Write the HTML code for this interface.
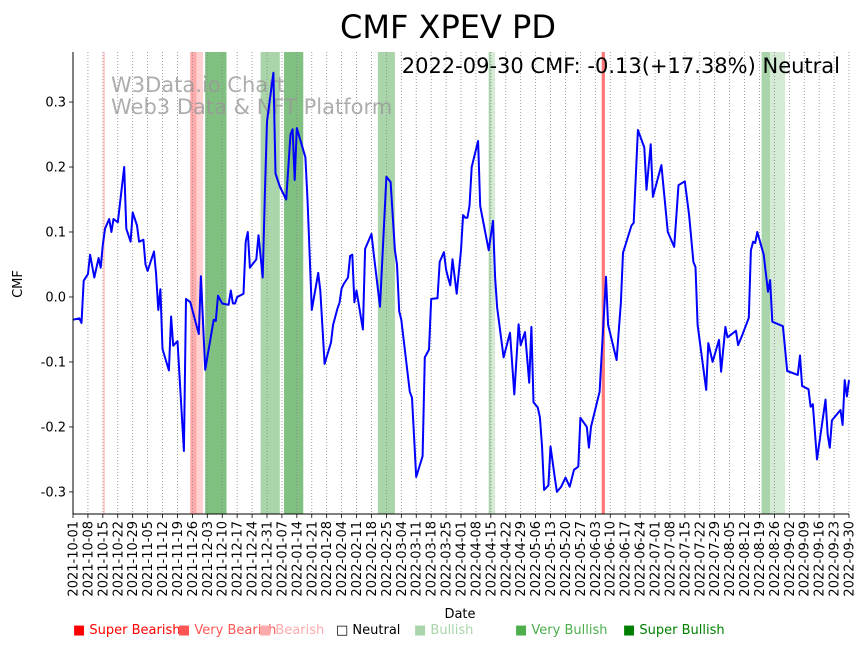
<!DOCTYPE html>
<html><head><meta charset="utf-8"><style>
body{margin:0;background:#fff;font-family:"Liberation Sans","DejaVu Sans",sans-serif;}
svg text{font-family:"DejaVu Sans","Liberation Sans",sans-serif;}
</style></head><body>
<svg id="chart" width="864" height="646" xmlns="http://www.w3.org/2000/svg">
<text x="448" y="38" font-size="32" text-anchor="middle">CMF XPEV PD</text>
<g id="spans"></g>
<g id="grid"></g>
<text x="111" y="92" font-size="21" fill="#999" opacity="0.8">W3Data.io Chart</text>
<text x="111" y="114" font-size="21" fill="#999" opacity="0.8">Web3 Data &amp; NFT Platform</text>
<g id="series"></g>
<text x="840" y="73" font-size="21" text-anchor="end">2022-09-30 CMF: -0.13(+17.38%) Neutral</text>
<g id="axes"></g>
<text transform="translate(22,284) rotate(-90)" font-size="13" text-anchor="middle">CMF</text>
<text x="460" y="618" font-size="13" text-anchor="middle">Date</text>
<g font-size="13">
<text x="73" y="634" fill="#ff0000">■ Super Bearish</text>
<text x="178" y="634" fill="#ff5555">■ Very Bearish</text>
<text x="259" y="634" fill="#ffaaaa">■ Bearish</text>
<text x="336" y="634" fill="#000">□ Neutral</text>
<text x="414" y="634" fill="#aad4aa">■ Bullish</text>
<text x="515" y="634" fill="#4caf4c">■ Very Bullish</text>
<text x="623" y="634" fill="#008000">■ Super Bullish</text>
</g>
</svg>
<script>
const days=[0,3,4,5,7,8,10,12,13,14,15,17,18,19,21,24,25,27,28,30,31,33,34,35,38,39,40,41,42,45,46,47,49,52,53,55,59,60,62,66,67,68,70,73,74,75,76,77,80,81,82,83,86,87,89,90,91,94,95,97,100,102,103,104,105,109,110,112,115,116,118,121,122,124,125,126,127,129,130,131,132,133,136,137,140,141,144,147,149,151,152,153,154,158,159,161,164,165,167,168,171,172,174,175,176,177,178,180,182,183,184,185,186,187,190,191,195,197,198,199,202,205,207,209,210,212,214,215,216,218,219,220,221,223,224,226,227,229,231,233,235,237,238,241,242,243,247,250,251,255,257,258,262,263,265,268,269,271,272,276,279,282,284,287,289,291,292,293,297,298,300,303,304,306,307,311,312,314,317,318,319,320,321,324,326,327,328,333,335,340,341,342,345,346,347,349,353,354,355,356,360,361,362,363,364];
const cmf=[-0.035,-0.033,-0.04,0.025,0.035,0.065,0.03,0.06,0.045,0.08,0.105,0.12,0.1,0.12,0.115,0.2,0.105,0.085,0.13,0.11,0.085,0.088,0.05,0.04,0.07,0.035,-0.02,0.012,-0.08,-0.113,-0.03,-0.075,-0.068,-0.237,-0.003,-0.008,-0.057,0.032,-0.112,-0.035,-0.037,0.002,-0.01,-0.012,0.01,-0.01,-0.01,0.0,0.005,0.085,0.1,0.045,0.058,0.095,0.03,0.16,0.27,0.345,0.19,0.17,0.15,0.25,0.258,0.18,0.26,0.215,0.15,-0.02,0.037,0.01,-0.103,-0.07,-0.043,-0.018,-0.009,0.013,0.02,0.03,0.063,0.065,-0.008,0.01,-0.05,0.074,0.097,0.068,-0.015,0.185,0.177,0.072,0.05,-0.022,-0.035,-0.146,-0.155,-0.277,-0.245,-0.093,-0.081,-0.003,-0.002,0.054,0.069,0.042,0.029,0.018,0.058,0.005,0.072,0.126,0.122,0.122,0.14,0.2,0.24,0.14,0.072,0.117,0.03,-0.017,-0.093,-0.055,-0.15,-0.042,-0.074,-0.054,-0.132,-0.046,-0.162,-0.17,-0.185,-0.229,-0.297,-0.29,-0.23,-0.278,-0.3,-0.292,-0.278,-0.292,-0.266,-0.261,-0.186,-0.2,-0.232,-0.2,-0.146,0.031,-0.043,-0.097,-0.008,0.068,0.11,0.114,0.257,0.23,0.165,0.235,0.154,0.203,0.1,0.077,0.172,0.178,0.126,0.054,0.046,-0.043,-0.143,-0.071,-0.1,-0.066,-0.115,-0.046,-0.062,-0.052,-0.074,-0.058,-0.032,0.072,0.085,0.083,0.1,0.065,0.008,0.026,-0.038,-0.045,-0.114,-0.12,-0.09,-0.137,-0.142,-0.169,-0.165,-0.25,-0.158,-0.212,-0.232,-0.19,-0.174,-0.197,-0.128,-0.153,-0.128];
const spanStart=[14,55,58,62,88,99,143,195,196,248,323,327];
const spanEnd=[15,58,61,72,97,108,151,196,198,249.5,327,334];
const spanColor=["#ffd0d0","#ffaaaa","#ffd0d0","#80c080","#aad4aa","#80c080","#aad4aa","#aad4aa","#d4ead4","#ff7777","#aad4aa","#d4ead4"];
const yTicks=[-0.3,-0.2,-0.1,0.0,0.1,0.2,0.3];
const startDate=new Date(Date.UTC(2021,9,1));
const NS="http://www.w3.org/2000/svg";
const X0=73,X1=849,Y0=52,Y1=514,VMIN=-0.334,VMAX=0.377,DMAX=364;
const xs=d=>X0+(X1-X0)*d/DMAX;
const ys=v=>Y1-(Y1-Y0)*(v-VMIN)/(VMAX-VMIN);
function mk(tag,attrs,parent){const e=document.createElementNS(NS,tag);for(const k in attrs)e.setAttribute(k,attrs[k]);parent.appendChild(e);return e;}
const spans=document.getElementById('spans');
spanStart.forEach((s,i)=>{
 const r=mk('rect',{x:xs(s),y:Y0,width:xs(spanEnd[i])-xs(s),height:Y1-Y0,fill:spanColor[i]},spans);
 
 
});
const grid=document.getElementById('grid');
const axes=document.getElementById('axes');
for(let d=0;d<=DMAX;d+=7){
 const x=xs(d);
 const l=mk('line',{x1:x,x2:x,y1:Y0,y2:Y1,stroke:'#888','stroke-width':0.8,'stroke-dasharray':'1,2'},grid);
 
 
 mk('line',{x1:x,x2:x,y1:Y1,y2:Y1+4,stroke:'#000','stroke-width':0.8},axes);
 const dt=new Date(startDate.getTime()+d*86400000);
 const t=mk('text',{transform:`translate(${x+4.5},${Y1+7}) rotate(-90)`,'font-size':13,'text-anchor':'end'},axes);
 
 
 t.textContent=dt.toISOString().slice(0,10);
}
yTicks.forEach(v=>{
 const y=ys(v);
 mk('line',{x1:X0-4,x2:X0,y1:y,y2:y,stroke:'#000','stroke-width':0.8},axes);
 const t=mk('text',{x:X0-7,y:y+4.5,'font-size':13,'text-anchor':'end'},axes);
 
 
 t.textContent=v.toFixed(1);
});
const sl=mk('line',{x1:X0,x2:X0,y1:Y0,y2:Y1,stroke:'#000','stroke-width':1},axes);


const bl=mk('line',{x1:X0,x2:X1,y1:Y1,y2:Y1,stroke:'#000','stroke-width':1},axes);


const pts=days.map((d,i)=>xs(d).toFixed(1)+','+ys(cmf[i]).toFixed(1)).join(' ');
const pl=mk('polyline',{points:pts,fill:'none',stroke:'#0000ff','stroke-width':2,'stroke-linejoin':'round'},document.getElementById('series'));


</script>
</body></html>
